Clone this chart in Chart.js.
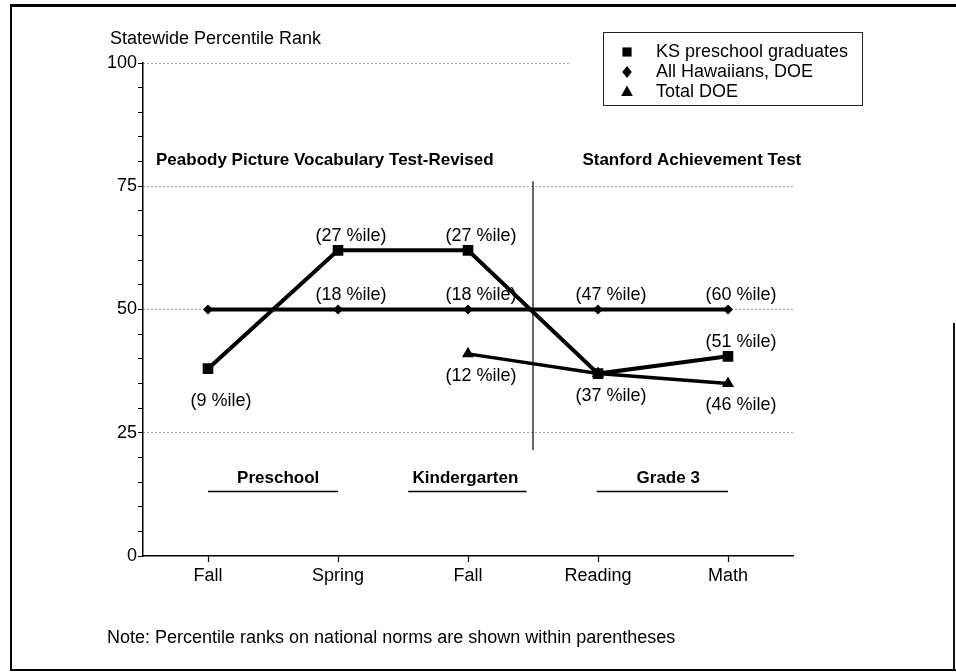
<!DOCTYPE html>
<html>
<head>
<meta charset="utf-8">
<title>Statewide Percentile Rank</title>
<script src="https://cdn.jsdelivr.net/npm/chart.js@4.4.1/dist/chart.umd.min.js"></script>
<style>
  html, body { margin: 0; padding: 0; background: #fff; }
  #wrap { position: relative; width: 956px; height: 672px; }
  #frame { position: absolute; left: 10px; top: 4px; width: 944px; height: 662px;
           border-left: 2px solid #000; border-top: 3px solid #000; border-bottom: 2px solid #000; }
  #frameRight { position: absolute; left: 953px; top: 323px; height: 348px; border-left: 2px solid #111; }
  canvas { position: absolute; left: 0; top: 0; }
</style>
</head>
<body>
<div id="wrap">
  <div id="frame"></div>
  <div id="frameRight"></div>
  <canvas id="rankChart" width="956" height="672"></canvas>
</div>
<script>
// categories along the bottom axis
const categories = ['Fall', 'Spring', 'Fall', 'Reading', 'Math'];

// statewide percentile rank per group
const ksGraduates = [38, 62, 62, 37, 40.5];
const allHawaiians = [50, 50, 50, 50, 50];
const totalDoe = [null, null, 41, 37, 35];

// national-norm percentile ranks printed next to the points
const ksNational = ['(9 %ile)', '(27 %ile)', '(27 %ile)', '(37 %ile)', '(51 %ile)'];
const hawaiianNational = [null, '(18 %ile)', '(18 %ile)', '(47 %ile)', '(60 %ile)'];
const totalNational = [null, null, '(12 %ile)', null, '(46 %ile)'];

const yTicks = [0, 25, 50, 75, 100];
const testNames = ['Peabody Picture Vocabulary Test-Revised', 'Stanford Achievement Test'];
const gradeGroups = ['Preschool', 'Kindergarten', 'Grade 3'];
const seriesNames = ['KS preschool graduates', 'All Hawaiians, DOE', 'Total DOE'];

const FAMILY = '"Liberation Sans", Arial, Helvetica, sans-serif';
const REG = '18px ' + FAMILY;
const BOLD = 'bold 17px ' + FAMILY;

Chart.defaults.font.family = FAMILY;
Chart.defaults.color = '#000';

function drawMarker(ctx, style, x, y, r) {
  ctx.beginPath();
  if (style === 'rect') {
    const s = r * Math.SQRT1_2;
    ctx.rect(x - s, y - s, 2 * s, 2 * s);
  } else if (style === 'rectRot') {
    ctx.moveTo(x, y - r); ctx.lineTo(x + r * 0.8, y); ctx.lineTo(x, y + r); ctx.lineTo(x - r * 0.8, y);
    ctx.closePath();
  } else {
    ctx.moveTo(x, y - r); ctx.lineTo(x + r * 0.9, y + r * 0.6); ctx.lineTo(x - r * 0.9, y + r * 0.6);
    ctx.closePath();
  }
  ctx.fill();
}

// percentile text beside each point
const pctLabels = {
  id: 'pctLabels',
  afterDatasetsDraw(chart) {
    const ctx = chart.ctx;
    const dy = { above: -14, below: 22, far: 32 };
    ctx.save();
    ctx.font = REG;
    ctx.fillStyle = '#000';
    ctx.textAlign = 'center';
    ctx.textBaseline = 'middle';
    chart.data.datasets.forEach((ds, di) => {
      const meta = chart.getDatasetMeta(di);
      ds.pctText.forEach((txt, i) => {
        if (!txt) return;
        const pt = meta.data[i];
        ctx.fillText(txt, pt.x + 13, pt.y + dy[ds.pctSide[i]]);
      });
    });
    ctx.restore();
  }
};

// headings, grade groups, divider, legend box and notes
const decorations = {
  id: 'decorations',
  afterDraw(chart) {
    const { ctx, scales: { x, y } } = chart;
    ctx.save();
    ctx.fillStyle = '#000';
    ctx.strokeStyle = '#000';

    // the top gridline stops short of the legend
    ctx.fillStyle = '#fff';
    ctx.fillRect(569, y.getPixelForValue(100) - 2, 34, 4);
    ctx.fillStyle = '#000';

    // divider between the two tests
    ctx.lineWidth = 1.2;
    ctx.beginPath();
    ctx.moveTo(x.getPixelForValue(2.5), y.getPixelForValue(76));
    ctx.lineTo(x.getPixelForValue(2.5), y.getPixelForValue(21.5));
    ctx.stroke();

    // test headings
    ctx.font = BOLD;
    ctx.textAlign = 'left';
    ctx.textBaseline = 'middle';
    ctx.fillText(testNames[0], x.getPixelForValue(-0.4), y.getPixelForValue(80.3));
    ctx.fillText(testNames[1], x.getPixelForValue(2.88), y.getPixelForValue(80.3));

    // grade groups with underlines
    const spans = [[0, 1], [1.54, 2.45], [2.99, 4]];
    const centres = [0.54, 1.98, 3.54];
    ctx.textAlign = 'center';
    ctx.lineWidth = 1.5;
    gradeGroups.forEach((g, i) => {
      ctx.fillText(g, x.getPixelForValue(centres[i]), y.getPixelForValue(15.8));
      const ly = Math.round(y.getPixelForValue(13.2)) + 0.5;
      ctx.beginPath();
      ctx.moveTo(x.getPixelForValue(spans[i][0]), ly);
      ctx.lineTo(x.getPixelForValue(spans[i][1]), ly);
      ctx.stroke();
    });

    // axis title and footnote
    ctx.font = REG;
    ctx.textAlign = 'left';
    ctx.fillText('Statewide Percentile Rank', 110, 39);
    ctx.fillText('Note: Percentile ranks on national norms are shown within parentheses', 107, 638);

    // legend box
    ctx.fillStyle = '#fff';
    ctx.fillRect(603, 32, 259, 73);
    ctx.lineWidth = 1;
    ctx.strokeStyle = '#222';
    ctx.strokeRect(603.5, 32.5, 259, 73);
    ctx.fillStyle = '#000';
    chart.data.datasets.forEach((ds, i) => {
      const ly = 52 + i * 20;
      drawMarker(ctx, ds.pointStyle, 627, ly, ds.legendRadius);
      ctx.fillText(ds.label, 656, ly);
    });
    ctx.restore();
  }
};

new Chart(document.getElementById('rankChart').getContext('2d'), {
  type: 'line',
  data: {
    labels: categories,
    datasets: [
      {
        label: seriesNames[0],
        data: ksGraduates,
        borderColor: '#000', backgroundColor: '#000', borderWidth: 4,
        pointStyle: 'rect', pointRadius: 7.5, pointBorderWidth: 0,
        legendRadius: 6.5,
        pctText: ksNational,
        pctSide: ['far', 'above', 'above', 'below', 'above']
      },
      {
        label: seriesNames[1],
        data: allHawaiians,
        borderColor: '#000', backgroundColor: '#000', borderWidth: 4,
        pointStyle: 'rectRot', pointRadius: 5, pointBorderWidth: 0,
        legendRadius: 6,
        pctText: hawaiianNational,
        pctSide: ['above', 'above', 'above', 'above', 'above']
      },
      {
        label: seriesNames[2],
        data: totalDoe,
        borderColor: '#000', backgroundColor: '#000', borderWidth: 3.5,
        pointStyle: 'triangle', pointRadius: 7, pointBorderWidth: 0,
        legendRadius: 6.5,
        pctText: totalNational,
        pctSide: ['below', 'below', 'below', 'below', 'below']
      }
    ]
  },
  options: {
    responsive: false,
    animation: false,
    layout: { padding: { left: 0, right: 163, top: 63, bottom: 76 } },
    plugins: { legend: { display: false }, tooltip: { enabled: false } },
    scales: {
      x: {
        type: 'category',
        offset: true,
        grid: { drawOnChartArea: false, drawTicks: true, tickLength: 6, tickColor: '#000', tickWidth: 1.2 },
        border: { color: '#000', width: 1.5 },
        ticks: { font: { size: 18 }, color: '#000', padding: 3 },
        afterFit: s => { s.height = 40; }
      },
      y: {
        min: 0,
        max: 100,
        afterBuildTicks: s => {
          s.ticks = [];
          for (let v = 0; v <= 100; v += 5) s.ticks.push({ value: v });
        },
        ticks: {
          autoSkip: false,
          font: { size: 18 },
          color: '#000',
          padding: 1,
          callback: v => (yTicks.includes(v) ? v : '')
        },
        grid: {
          color: c => (c.tick && c.tick.value > 0 && yTicks.includes(c.tick.value)) ? '#555' : 'rgba(0,0,0,0)',
          lineWidth: 1,
          tickColor: '#000',
          tickLength: 5,
          tickWidth: 1,
          borderDash: [1, 3]
        },
        border: { color: '#000', width: 1.5, dash: [1, 3] },
        afterFit: s => { s.width = 143; }
      }
    }
  },
  plugins: [pctLabels, decorations]
});
</script>
</body>
</html>
